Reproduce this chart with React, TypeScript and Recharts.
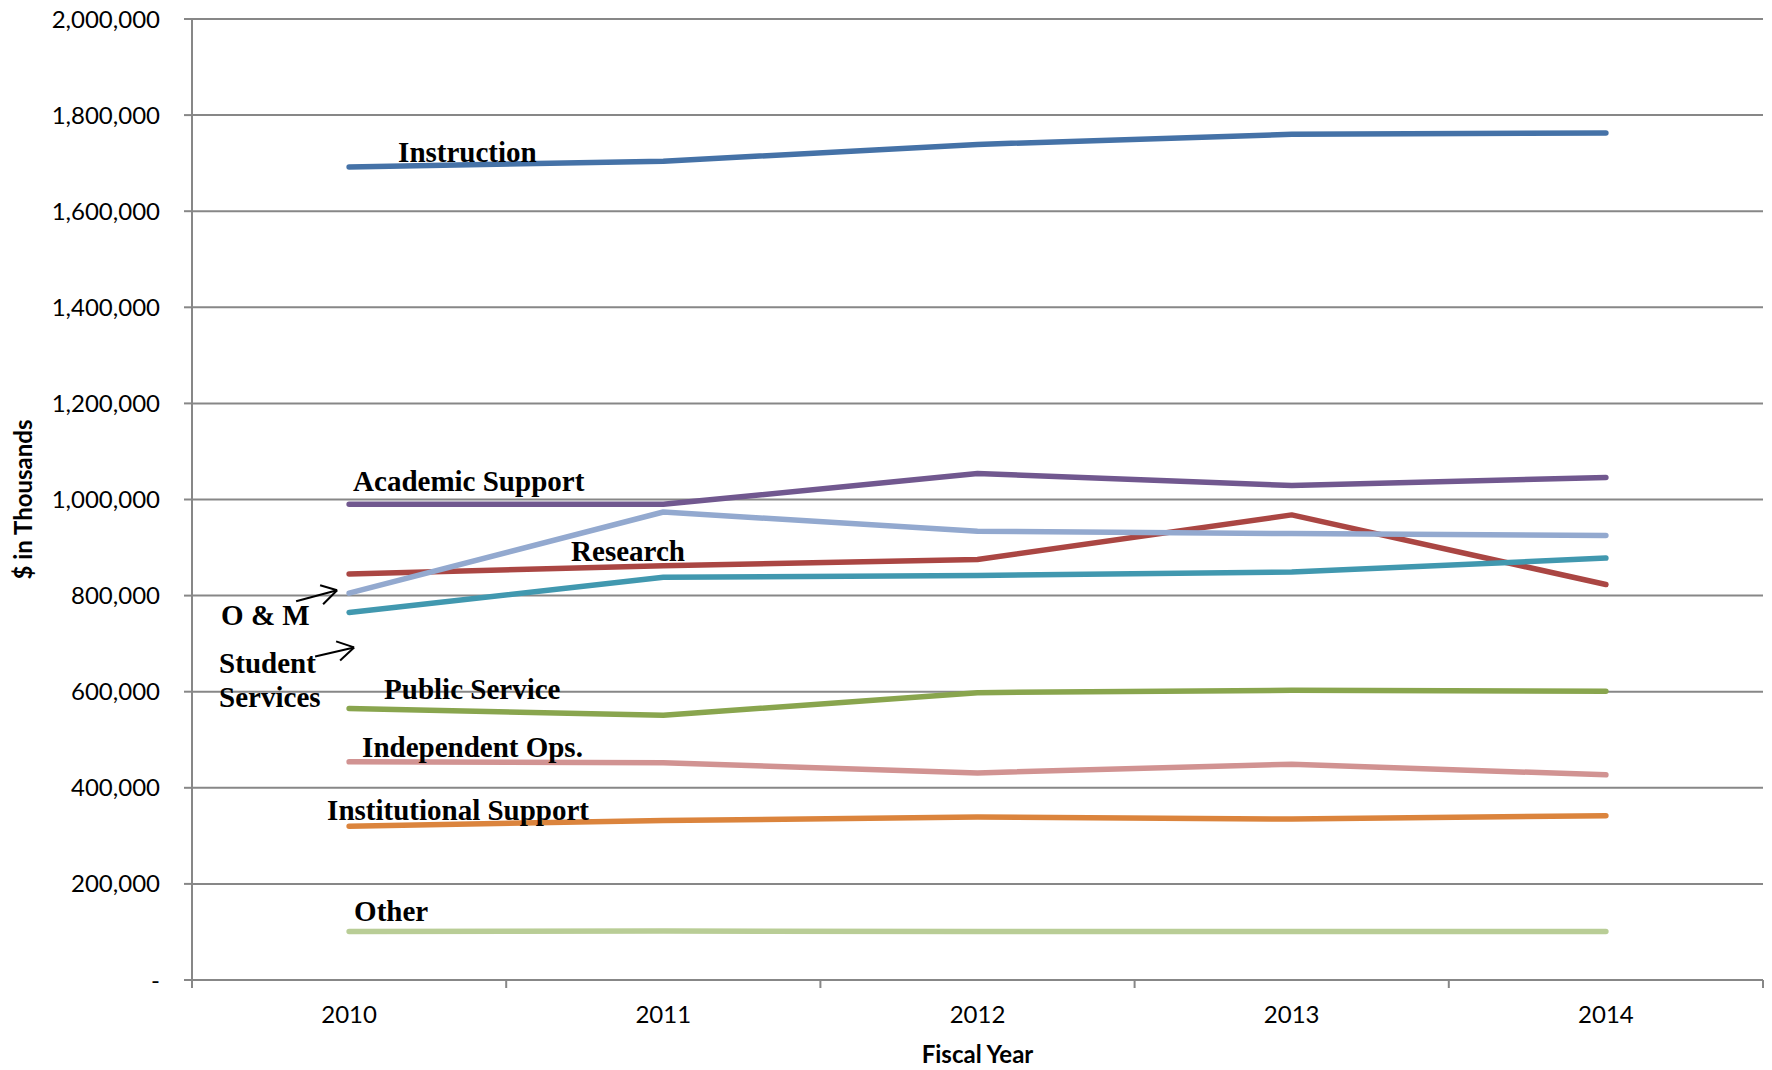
import { LineChart, Line, XAxis, YAxis, CartesianGrid, ReferenceDot } from 'recharts'

// Fiscal years on the category axis
const YEARS = ['2010', '2011', '2012', '2013', '2014']

// $ in thousands
const INSTRUCTION = [1692000, 1704000, 1739000, 1760000, 1763000]
const RESEARCH = [845000, 862000, 875000, 968000, 823000]
const PUBLIC_SERVICE = [565000, 551000, 598000, 603000, 601000]
const ACADEMIC_SUPPORT = [990000, 990000, 1054000, 1029000, 1046000]
const STUDENT_SERVICES = [765000, 838000, 842000, 849000, 878000]
const INSTITUTIONAL_SUPPORT = [320000, 332000, 339000, 335000, 342000]
const OPERATIONS_MAINTENANCE = [805000, 974000, 934000, 929000, 925000]
const INDEPENDENT_OPS = [454000, 452000, 431000, 449000, 427000]
const OTHER = [101000, 102000, 101000, 101000, 101000]

const Y_TICKS = [0, 200000, 400000, 600000, 800000, 1000000, 1200000, 1400000, 1600000, 1800000, 2000000]

// Excel 2007 line palette, in series order (later series draw on top)
const SERIES = [
  { key: 'instruction', values: INSTRUCTION, colour: '#4572A7' },
  { key: 'research', values: RESEARCH, colour: '#AA4643' },
  { key: 'publicService', values: PUBLIC_SERVICE, colour: '#89A54E' },
  { key: 'academicSupport', values: ACADEMIC_SUPPORT, colour: '#71588F' },
  { key: 'studentServices', values: STUDENT_SERVICES, colour: '#4198AF' },
  { key: 'institutionalSupport', values: INSTITUTIONAL_SUPPORT, colour: '#DB843D' },
  { key: 'om', values: OPERATIONS_MAINTENANCE, colour: '#93A9CF' },
  { key: 'independentOps', values: INDEPENDENT_OPS, colour: '#D19392' },
  { key: 'other', values: OTHER, colour: '#B9CD96' },
]

type Arrow = { tail: [number, number]; tip: [number, number]; heads: [number, number][] }

interface SeriesLabel {
  lines: string[]
  series: string
  dx: number
  dy: number
  arrow?: Arrow
}

// Hand-placed labels, offset (px) from each series' first point
const LABELS: SeriesLabel[] = [
  { lines: ['Instruction'], series: 'instruction', dx: 49, dy: -5 },
  { lines: ['Academic Support'], series: 'academicSupport', dx: 4, dy: -13 },
  { lines: ['Research'], series: 'research', dx: 222, dy: -13 },
  {
    lines: ['O & M'], series: 'om', dx: -128, dy: 32,
    arrow: { tail: [-53, 8], tip: [-12, -3], heads: [[-29, -8], [-26, 11]] },
  },
  {
    lines: ['Student', 'Services'], series: 'studentServices', dx: -130, dy: 61,
    arrow: { tail: [-34, 44], tip: [5, 35], heads: [[-13, 29], [-9, 48]] },
  },
  { lines: ['Public Service'], series: 'publicService', dx: 35, dy: -10 },
  { lines: ['Independent Ops.'], series: 'independentOps', dx: 13, dy: -5 },
  { lines: ['Institutional Support'], series: 'institutionalSupport', dx: -22, dy: -6 },
  { lines: ['Other'], series: 'other', dx: 5, dy: -10 },
]

const WIDTH = 1772
const HEIGHT = 1070
const MARGIN = { top: 19, right: 9, bottom: 0, left: 0 }
const Y_AXIS_W = 192
const X_AXIS_H = 90
const BAND = (WIDTH - MARGIN.left - MARGIN.right - Y_AXIS_W) / YEARS.length

const GRID = '#878787'
const AXIS_FONT = 'Lato, "Open Sans", sans-serif'
const LABEL_FONT = '"Liberation Serif", "Times New Roman", serif'

const data = YEARS.map((year, i) => {
  const row: Record<string, string | number> = { year }
  for (const s of SERIES) row[s.key] = s.values[i]
  return row
})

const fmtY = (v: number) => (v === 0 ? '-' : v.toLocaleString('en-US'))

// Excel puts the tick marks between categories, the labels in the middle
function YearTick(props: any) {
  const { x, y, payload, index } = props
  const half = BAND / 2
  return (
    <g>
      <line x1={x - half} y1={y - 8} x2={x - half} y2={y} stroke={GRID} strokeWidth={2} />
      {index === YEARS.length - 1 && (
        <line x1={x + half} y1={y - 8} x2={x + half} y2={y} stroke={GRID} strokeWidth={2} />
      )}
      <text x={x} y={y + 35} textAnchor="middle" fill="#000" fontSize={24} fontFamily={AXIS_FONT}>
        {payload.value}
      </text>
    </g>
  )
}

function labelShape(label: SeriesLabel) {
  return (p: any) => {
    const { cx, cy } = p
    const a = label.arrow
    return (
      <g>
        <text
          x={cx + label.dx}
          y={cy + label.dy}
          fontFamily={LABEL_FONT}
          fontWeight="bold"
          fontSize={29}
          fill="#000"
        >
          {label.lines.map((ln, i) => (
            <tspan key={ln} x={cx + label.dx} dy={i === 0 ? 0 : 34}>
              {ln}
            </tspan>
          ))}
        </text>
        {a && (
          <g stroke="#000" strokeWidth={2} fill="none">
            <line x1={cx + a.tail[0]} y1={cy + a.tail[1]} x2={cx + a.tip[0]} y2={cy + a.tip[1]} />
            {a.heads.map((h, i) => (
              <line key={i} x1={cx + h[0]} y1={cy + h[1]} x2={cx + a.tip[0]} y2={cy + a.tip[1]} />
            ))}
          </g>
        )}
      </g>
    )
  }
}

export default function App() {
  return (
    <div style={{ position: 'absolute', left: 0, top: 0, background: '#fff' }}>
      <LineChart width={WIDTH} height={HEIGHT} data={data} margin={MARGIN}>
        <CartesianGrid vertical={false} stroke={GRID} strokeWidth={2} />
        <XAxis
          dataKey="year"
          scale="band"
          interval={0}
          height={X_AXIS_H}
          axisLine={{ stroke: GRID, strokeWidth: 2 }}
          tickLine={false}
          tickSize={8}
          tickMargin={0}
          tick={<YearTick />}
          label={{
            value: 'Fiscal Year',
            position: 'insideBottom',
            offset: 7,
            fill: '#000',
            fontSize: 24,
            fontWeight: 'bold',
            fontFamily: AXIS_FONT,
          }}
        />
        <YAxis
          width={Y_AXIS_W}
          domain={[0, 2000000]}
          ticks={Y_TICKS}
          interval={0}
          tickFormatter={fmtY}
          axisLine={{ stroke: GRID, strokeWidth: 2 }}
          tickLine={{ stroke: GRID, strokeWidth: 2 }}
          tickSize={8}
          tickMargin={24}
          tick={{ fill: '#000', fontSize: 24, fontFamily: AXIS_FONT }}
          label={{
            value: '$ in Thousands',
            angle: -90,
            position: 'insideLeft',
            offset: 23,
            fill: '#000',
            fontSize: 24,
            fontWeight: 'bold',
            fontFamily: AXIS_FONT,
            style: { textAnchor: 'middle' },
          }}
        />
        {SERIES.map((s) => (
          <Line
            key={s.key}
            dataKey={s.key}
            type="linear"
            stroke={s.colour}
            strokeWidth={5.5}
            strokeLinecap="round"
            strokeLinejoin="round"
            dot={false}
            activeDot={false}
            isAnimationActive={false}
          />
        ))}
        {LABELS.map((l) => {
          const s = SERIES.find((x) => x.key === l.series)!
          return (
            <ReferenceDot
              key={l.series}
              x={YEARS[0]}
              y={s.values[0]}
              r={0}
              shape={labelShape(l)}
            />
          )
        })}
      </LineChart>
    </div>
  )
}
